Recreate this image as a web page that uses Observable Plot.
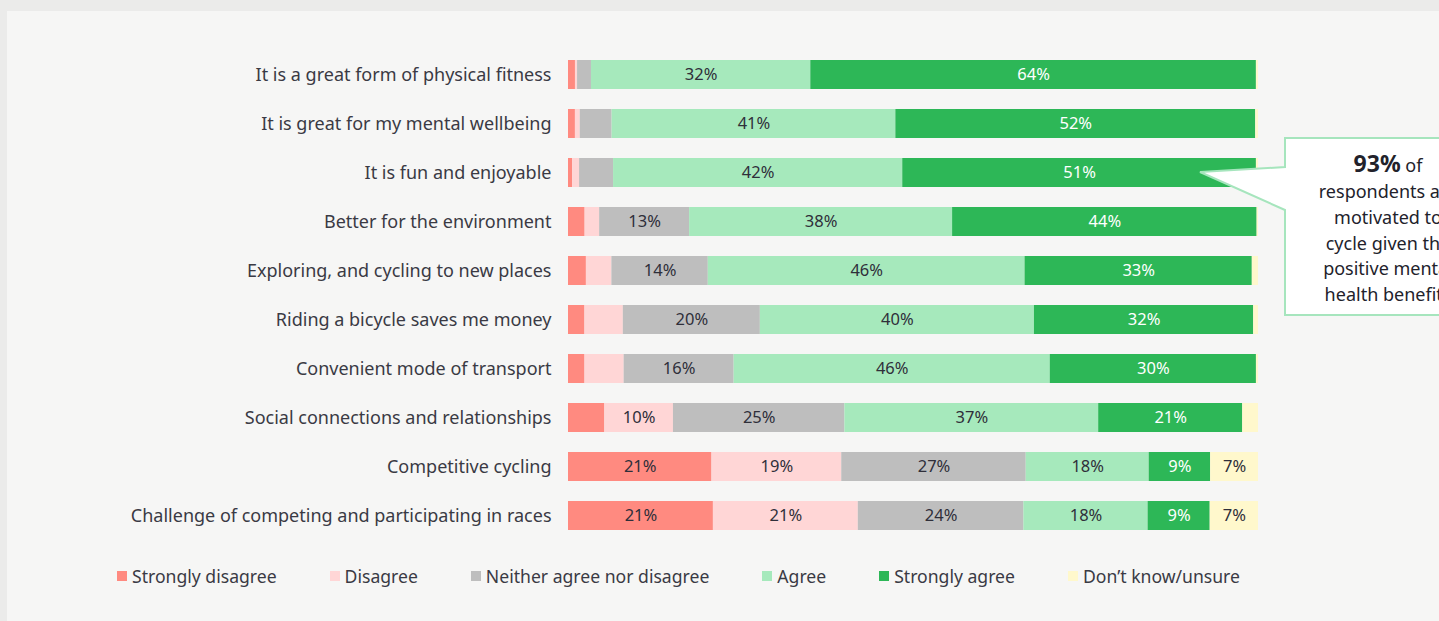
<!DOCTYPE html>
<html>
<head>
<meta charset="utf-8">
<script src="https://cdn.jsdelivr.net/npm/d3@7"></script>
<script src="https://cdn.jsdelivr.net/npm/@observablehq/plot@0.6"></script>
<style>
  html, body { margin: 0; padding: 0; }
  body { width: 1439px; height: 621px; overflow: hidden; background: #ebebea; position: relative; font-family: "Noto Sans", sans-serif; }
  #panel { position: absolute; left: 7px; top: 11px; right: 0; bottom: 0; background: #f6f6f5; }
  #chart { position: absolute; left: 0; top: 0; }
  #legend { position: absolute; left: 117px; top: 565px; display: flex; gap: 53px; font-size: 17.6px; color: #3a3a44; line-height: 22px; }
  #legend .item { display: flex; align-items: center; }
  #legend .sw { width: 10px; height: 10px; margin-right: 5px; }
  #callout { position: absolute; left: 0; top: 0; }
</style>
</head>
<body>
<div id="panel"></div>
<div id="chart"></div>
<svg id="callout" width="1439" height="621"></svg>
<div id="legend"></div>
<script>
const categories = [
  "It is a great form of physical fitness",
  "It is great for my mental wellbeing",
  "It is fun and enjoyable",
  "Better for the environment",
  "Exploring, and cycling to new places",
  "Riding a bicycle saves me money",
  "Convenient mode of transport",
  "Social connections and relationships",
  "Competitive cycling",
  "Challenge of competing and participating in races"
];
const series = ["Strongly disagree", "Disagree", "Neither agree nor disagree", "Agree", "Strongly agree", "Don’t know/unsure"];
const colors = ["#ff8a80", "#ffd6d6", "#bebebe", "#a6e9bc", "#2db757", "#fff8cc"];

const stronglyDisagree = [1, 1, 0.6, 2.4, 2.6, 2.4, 2.4, 5.3, 21, 21];
const disagree         = [0.3, 0.7, 1, 2.1, 3.7, 5.6, 5.7, 10, 19, 21];
const neither          = [2, 4.6, 4.9, 13, 14, 20, 16, 25, 27, 24];
const agree            = [31.5, 41, 41.7, 38, 46, 40, 46, 37, 18, 18];
const stronglyAgree    = [64, 52, 51, 44, 33, 32, 30, 21, 9, 9];
const dontKnow         = [0.3, 0.4, 0.3, 0.2, 0.9, 0.7, 0.3, 2.3, 7, 7];

const calloutLines = ["respondents are", "motivated to", "cycle given the", "positive mental", "health benefits"];

const valuesBySeries = [stronglyDisagree, disagree, neither, agree, stronglyAgree, dontKnow];
const data = [];
categories.forEach((c, i) => {
  series.forEach((s, j) => data.push({category: c, series: s, value: valuesBySeries[j][i]}));
});
const label = d => d.value >= 6.5 ? Math.round(d.value) + "%" : null;
const stackOpts = {x: "value", y: "category", z: "series", offset: "normalize"};

const chart = Plot.plot({
  width: 1439,
  height: 600,
  marginLeft: 568,
  marginRight: 181,
  marginTop: 38.5,
  marginBottom: 48.4,
  style: {background: "transparent", fontFamily: "'Noto Sans', sans-serif"},
  x: {domain: [0, 1], axis: null},
  y: {domain: categories, padding: 0.4, label: null},
  color: {domain: series, range: colors},
  marks: [
    Plot.axisY({tickSize: 0, tickPadding: 17, fontSize: 18, fill: "#3a3a44", label: null}),
    Plot.barX(data, Plot.stackX({...stackOpts, fill: "series"})),
    Plot.text(data, Plot.stackX({...stackOpts, text: d => d.series !== "Strongly agree" ? label(d) : null, fill: "#2f2f3a", fontSize: 16.5})),
    Plot.text(data, Plot.stackX({...stackOpts, text: d => d.series === "Strongly agree" ? label(d) : null, fill: "white", fontSize: 16.5}))
  ]
});
document.getElementById("chart").appendChild(chart);

// legend
const legend = d3.select("#legend");
series.forEach((s, j) => {
  const it = legend.append("div").attr("class", "item");
  it.append("div").attr("class", "sw").style("background", colors[j]);
  it.append("span").text(s);
});

// callout annotation
const svg = d3.select("#callout");
svg.append("path")
  .attr("d", "M1285,138 L1470,138 L1470,315 L1285,315 L1285,210 L1200,172 L1285,167 Z")
  .attr("fill", "#ffffff").attr("stroke", "#a6e5bd").attr("stroke-width", 2);
const cx = 1388;
const t0 = svg.append("text").attr("x", cx).attr("y", 172).attr("text-anchor", "middle")
  .attr("fill", "#22222b").style("font-family", "'Noto Sans', sans-serif");
t0.append("tspan").attr("font-size", 23).attr("font-weight", "bold").text("93%");
t0.append("tspan").attr("font-size", 18).text(" of");
calloutLines.forEach((l, i) => {
  svg.append("text").attr("x", cx).attr("y", 198 + i * 25.8).attr("text-anchor", "middle")
    .attr("font-size", 18).attr("fill", "#22222b").style("font-family", "'Noto Sans', sans-serif").text(l);
});
</script>
</body>
</html>
